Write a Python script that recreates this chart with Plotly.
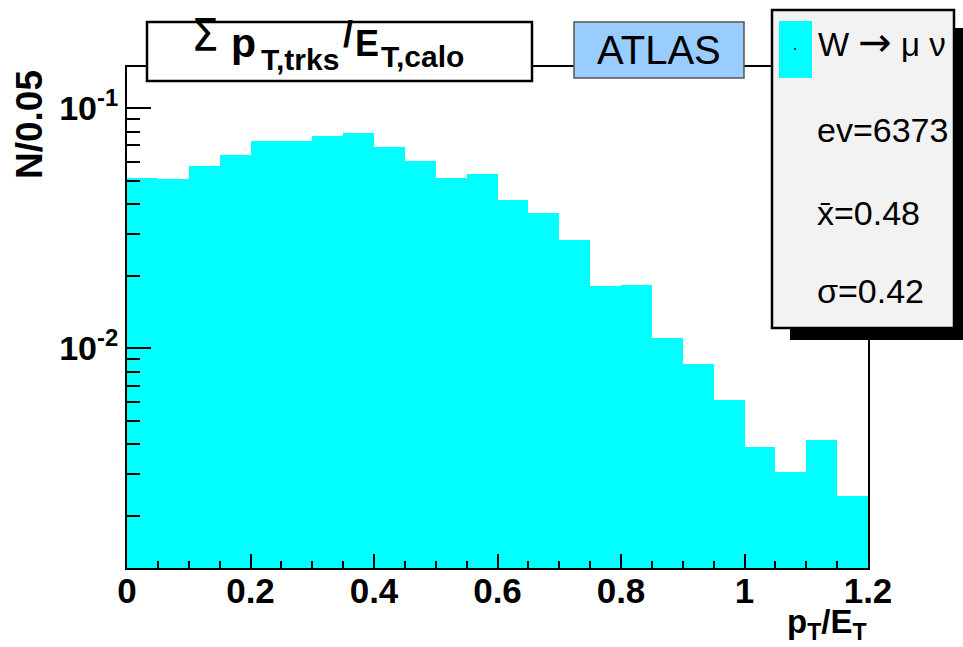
import plotly.graph_objects as go

# ---- data ----
bin_width = 0.05
bin_centers = [0.025 + 0.05 * k for k in range(24)]
fractions = [0.0511, 0.0506, 0.0575, 0.0637, 0.0731, 0.0731, 0.0769, 0.0787,
             0.0688, 0.0601, 0.0514, 0.0531, 0.0414, 0.0367, 0.0284, 0.0182,
             0.0183, 0.01107, 0.0086, 0.0061, 0.00388, 0.00305, 0.00415, 0.00243]
x_tickvals = [0, 0.2, 0.4, 0.6, 0.8, 1.0, 1.2]
x_ticktext = ["0", "0.2", "0.4", "0.6", "0.8", "1", "1.2"]
y_tickvals = [0.01, 0.1]
y_ticktext = ["10<sup>-2</sup>", "10<sup>-1</sup>"]
y_minor = [k * 0.001 for k in range(2, 10)] + [k * 0.01 for k in range(2, 10)]
stats_lines = ["ev=6373", "x\u0304=0.48", "\u03c3=0.42"]

W, H = 963, 647
L, R, T, B = 127, 868, 67, 568
FONT = "Liberation Sans"


def px(x):
    return (x - L) / (R - L)


def py(y):
    return (B - y) / (B - T)


fig = go.Figure()
fig.add_trace(go.Bar(x=bin_centers, y=fractions, width=bin_width,
                     marker=dict(color="#00ffff", line=dict(width=0)),
                     showlegend=False))

fig.update_layout(
    width=W, height=H,
    margin=dict(l=L, r=W - R, t=T, b=H - B),
    paper_bgcolor="white", plot_bgcolor="white",
    bargap=0,
    xaxis=dict(range=[0, 1.2], tickvals=x_tickvals, ticktext=x_ticktext,
               ticks="inside", ticklen=14, tickwidth=2, tickcolor="black",
               ticklabelstandoff=-9,
               minor=dict(dtick=0.05, ticks="inside", ticklen=7, tickwidth=2,
                          tickcolor="black", showgrid=False),
               showline=True, linewidth=2, linecolor="black", mirror=True,
               showgrid=False, zeroline=False,
               tickfont=dict(family=FONT, size=35, color="black", weight="bold")),
    yaxis=dict(type="log", range=[-2.915, -0.828],
               tickvals=y_tickvals, ticktext=y_ticktext,
               ticks="inside", ticklen=24, tickwidth=2, tickcolor="black",
               minor=dict(tickvals=y_minor, ticks="inside", ticklen=13,
                          tickwidth=2, tickcolor="black", showgrid=False),
               showline=True, linewidth=2, linecolor="black", mirror=True,
               showgrid=False, zeroline=False,
               tickfont=dict(family=FONT, size=34, color="black", weight="bold")),
)

shapes = []
# title box
shapes.append(dict(type="rect", xref="paper", yref="paper",
                   x0=px(147), x1=px(532), y0=py(81), y1=py(22),
                   fillcolor="white", line=dict(color="black", width=2.5), layer="above"))
# ATLAS box
shapes.append(dict(type="rect", xref="paper", yref="paper",
                   x0=px(574), x1=px(744), y0=py(78), y1=py(22),
                   fillcolor="#99ccff", line=dict(color="#555555", width=1.5), layer="above"))
# stats box shadow
shapes.append(dict(type="rect", xref="paper", yref="paper",
                   x0=px(790), x1=px(963), y0=py(340), y1=py(28),
                   fillcolor="black", line=dict(width=0), layer="above"))
# stats box
shapes.append(dict(type="rect", xref="paper", yref="paper",
                   x0=px(772), x1=px(954), y0=py(328), y1=py(10),
                   fillcolor="#f2f2f2", line=dict(color="black", width=2.5), layer="above"))
# legend marker
shapes.append(dict(type="rect", xref="paper", yref="paper",
                   x0=px(779), x1=px(812), y0=py(78), y1=py(21),
                   fillcolor="#00ffff", line=dict(width=0), layer="above"))
shapes.append(dict(type="circle", xref="paper", yref="paper",
                   x0=px(794), x1=px(796), y0=py(50), y1=py(48),
                   fillcolor="black", line=dict(width=0), layer="above"))
fig.update_layout(shapes=shapes)


def piece(text, x, yc, size, bold=True, anchor="left", family=FONT):
    return dict(xref="paper", yref="paper", x=px(x), y=py(yc), text=text,
                showarrow=False, xanchor=anchor, yanchor="middle",
                font=dict(family=family, size=size, color="black",
                          weight="bold" if bold else "normal"))


ann = []
# title pieces
ann.append(piece("\u03a3", 189, 35, 44, bold=False, family="DejaVu Sans"))
ann.append(piece("p", 229, 43, 41))
ann.append(piece("T,trks", 259, 59, 30))
ann.append(piece("/", 341, 34, 36))
ann.append(piece("E", 353, 43, 36))
ann.append(piece("T,calo", 379, 57, 30))
# ATLAS
ann.append(piece("ATLAS", 659, 50, 40, bold=False, anchor="center"))
# legend entry
ann.append(dict(xref="paper", yref="paper", x=px(816), y=py(42),
                text="W <span style=\"font-family:'DejaVu Sans';font-size:40px\">\u2192</span> \u03bc \u03bd",
                showarrow=False, xanchor="left", yanchor="middle",
                font=dict(family=FONT, size=33, color="black")))
for txt, yc in zip(stats_lines, [130, 213, 291]):
    ann.append(piece(txt, 815, yc, 34, bold=False))
# axis titles
ann.append(dict(xref="paper", yref="paper", x=px(30), y=py(125),
                text="<b>N/0.05</b>", textangle=-90, showarrow=False,
                xanchor="center", yanchor="middle",
                font=dict(family=FONT, size=37, color="black")))
ann.append(dict(xref="paper", yref="paper", x=px(869), y=py(624),
                text="<b>p<sub>T</sub>/E<sub>T</sub></b>", showarrow=False,
                xanchor="right", yanchor="middle",
                font=dict(family=FONT, size=33, color="black")))
fig.update_layout(annotations=ann)

fig.write_html("out.html")
